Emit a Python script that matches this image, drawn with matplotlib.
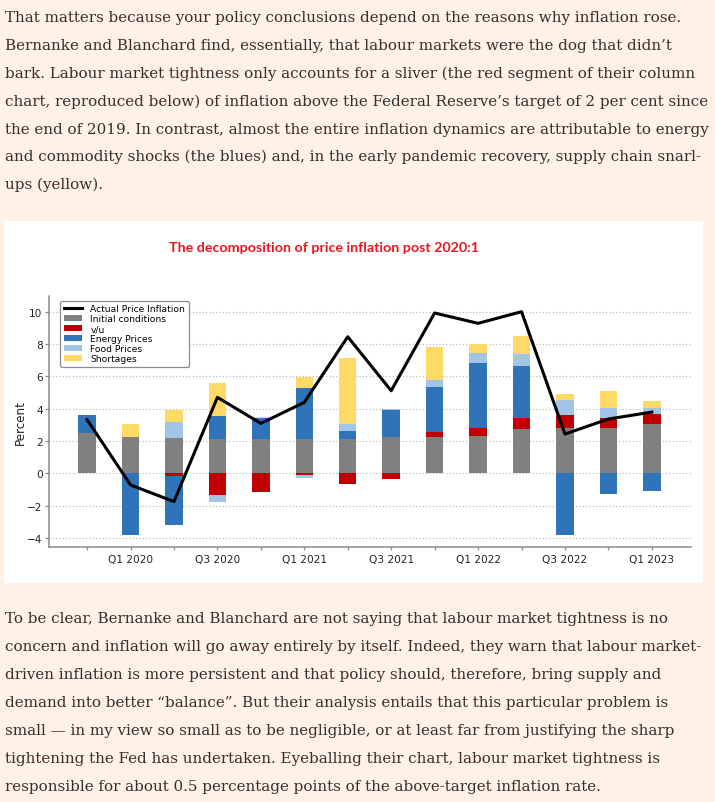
import matplotlib
matplotlib.use('Agg')
import matplotlib.pyplot as plt
import numpy as np
from matplotlib.patches import Rectangle, Patch
from matplotlib.lines import Line2D

# ---------------- data ----------------
quarters = ['Q4 2019', 'Q1 2020', 'Q2 2020', 'Q3 2020', 'Q4 2020', 'Q1 2021', 'Q2 2021',
            'Q3 2021', 'Q4 2021', 'Q1 2022', 'Q2 2022', 'Q3 2022', 'Q4 2022', 'Q1 2023']
tick_labels = ['Q1 2020', 'Q3 2020', 'Q1 2021', 'Q3 2021', 'Q1 2022', 'Q3 2022', 'Q1 2023']

initial_conditions = [2.47, 2.27, 2.19, 2.10, 2.10, 2.10, 2.10, 2.23, 2.23, 2.33, 2.74, 2.80, 2.80, 3.03]
vu                 = [0.00, 0.00, -0.14, -1.32, -1.18, -0.10, -0.64, -0.37, 0.33, 0.49, 0.68, 0.81, 0.64, 0.64]
energy_prices      = [1.12, -3.81, -3.06, 1.43, 1.32, 3.20, 0.50, 1.69, 2.78, 3.98, 3.24, -3.79, -1.26, -1.07]
food_prices        = [0.00, 0.00, 0.96, -0.43, 0.00, -0.21, 0.45, 0.05, 0.45, 0.62, 0.74, 0.91, 0.60, 0.39]
shortages          = [0.00, 0.78, 0.77, 2.08, 0.06, 0.68, 4.08, 0.00, 2.02, 0.60, 1.07, 0.37, 1.05, 0.43]
actual_inflation   = [3.32, -0.72, -1.75, 4.70, 3.09, 4.39, 8.45, 5.11, 9.92, 9.28, 10.00, 2.43, 3.36, 3.79]

series_names = ['Initial conditions', 'v/u', 'Energy Prices', 'Food Prices', 'Shortages']
series_values = [initial_conditions, vu, energy_prices, food_prices, shortages]
series_colors = ['#808080', '#c00000', '#2f74b8', '#a2c4e6', '#ffd966']

title_text = 'The decomposition of price inflation post 2020:1'

top_lines = [
    "That matters because your policy conclusions depend on the reasons why inflation rose.",
    "Bernanke and Blanchard find, essentially, that labour markets were the dog that didn\u2019t",
    "bark. Labour market tightness only accounts for a sliver (the red segment of their column",
    "chart, reproduced below) of inflation above the Federal Reserve\u2019s target of 2 per cent since",
    "the end of 2019. In contrast, almost the entire inflation dynamics are attributable to energy",
    "and commodity shocks (the blues) and, in the early pandemic recovery, supply chain snarl-",
    "ups (yellow).",
]
bottom_lines = [
    "To be clear, Bernanke and Blanchard are not saying that labour market tightness is no",
    "concern and inflation will go away entirely by itself. Indeed, they warn that labour market-",
    "driven inflation is more persistent and that policy should, therefore, bring supply and",
    "demand into better \u201cbalance\u201d. But their analysis entails that this particular problem is",
    "small \u2014 in my view so small as to be negligible, or at least far from justifying the sharp",
    "tightening the Fed has undertaken. Eyeballing their chart, labour market tightness is",
    "responsible for about 0.5 percentage points of the above-target inflation rate.",
]

# ---------------- figure ----------------
W, H = 715, 803
fig = plt.figure(figsize=(W / 100, H / 100), dpi=100)
fig.patch.set_facecolor('#FFF1E6')


def fx(px):
    return px / W


def fy(py):
    return 1 - py / H


renderer = fig.canvas.get_renderer()


def fit_size(text, width_px, **kw):
    t = fig.text(0, 0, text, fontsize=10, **kw)
    w = t.get_window_extent(renderer).width
    t.remove()
    return 10 * width_px / w


# white chart panel
fig.add_artist(Rectangle((fx(4), fy(584)), fx(703) - fx(4), fy(222) - fy(584),
                         transform=fig.transFigure, facecolor='white', edgecolor='none', zorder=0))

# body text
body_family = 'DejaVu Serif'
body_size = fit_size(top_lines[0], 678, family=body_family)
body_color = '#33302E'
for i, line in enumerate(top_lines):
    fig.text(fx(5), fy(22 + 27.9 * i), line, family=body_family, fontsize=body_size,
             color=body_color, va='baseline', ha='left')
for i, line in enumerate(bottom_lines):
    fig.text(fx(5), fy(623.3 + 27.9 * i), line, family=body_family, fontsize=body_size,
             color=body_color, va='baseline', ha='left')

# title
title_size = fit_size(title_text, 309, family='Lato', weight='bold')
fig.text(fx(324), fy(251.7), title_text, family='Lato', weight='bold', fontsize=title_size,
         color='#e8161e', ha='center', va='baseline')

# axes
ax = fig.add_axes([fx(49.3), fy(547.7), (690.5 - 49.3) / W, (547.7 - 296.7) / H])
ax.set_facecolor('white')
x = np.arange(len(quarters))
pos_bottom = np.zeros(len(quarters))
neg_bottom = np.zeros(len(quarters))
handles = [Line2D([], [], color='black', lw=2.2, label='Actual Price Inflation')]
for name, vals, col in zip(series_names, series_values, series_colors):
    v = np.array(vals, dtype=float)
    bottoms = np.where(v >= 0, pos_bottom, neg_bottom)
    ax.bar(x, v, width=0.4, bottom=bottoms, color=col, edgecolor='none', zorder=2)
    pos_bottom = pos_bottom + np.where(v > 0, v, 0)
    neg_bottom = neg_bottom + np.where(v < 0, v, 0)
    handles.append(Patch(facecolor=col, edgecolor='none', label=name))

ax.plot(x, actual_inflation, color='black', lw=2.2, zorder=3)

ax.set_xlim(-0.87, 13.89)
ax.set_ylim(-4.54, 10.99)
ax.set_yticks([-4, -2, 0, 2, 4, 6, 8, 10])
ax.set_yticklabels(['\u22124', '\u22122', '0', '2', '4', '6', '8', '10'])
major_pos = [quarters.index(t) for t in tick_labels]
ax.set_xticks(major_pos)
ax.set_xticklabels(tick_labels)
ax.set_xticks([i for i in x if i not in major_pos], minor=True)

ax.grid(axis='y', color='#b5b5b5', linestyle=(0, (1, 2)), lw=0.8, zorder=0)
ax.set_axisbelow(True)
for s in ['top', 'right']:
    ax.spines[s].set_visible(False)
for s in ['left', 'bottom']:
    ax.spines[s].set_color('#8a8a8a')
    ax.spines[s].set_linewidth(1.1)

ax.tick_params(axis='x', which='both', length=2.4, width=0.9, color='#8a8a8a',
               labelsize=7.6, labelcolor='#222222', pad=2.9)
ax.tick_params(axis='y', length=3.1, width=0.9, color='#8a8a8a',
               labelsize=7.6, labelcolor='#222222', pad=1.7)

ax.set_ylabel('Percent', fontsize=8.6, color='#222222')
ax.yaxis.label.set_va('center')
ax.yaxis.set_label_coords((20 - 49.3) / (690.5 - 49.3), 0.5)

leg = ax.legend(handles=handles, loc='upper left',
                bbox_to_anchor=((60 - 49.3) / (690.5 - 49.3), 1 - 5 / 251.0),
                borderaxespad=0, fontsize=6.6, labelspacing=0.1, handlelength=2.0,
                handletextpad=0.9, borderpad=0.4, framealpha=1, fancybox=True,
                edgecolor='#8a8a8a')
leg.get_frame().set_linewidth(0.9)
leg.set_zorder(5)

fig.savefig('out.png', dpi=100, facecolor=fig.get_facecolor())
